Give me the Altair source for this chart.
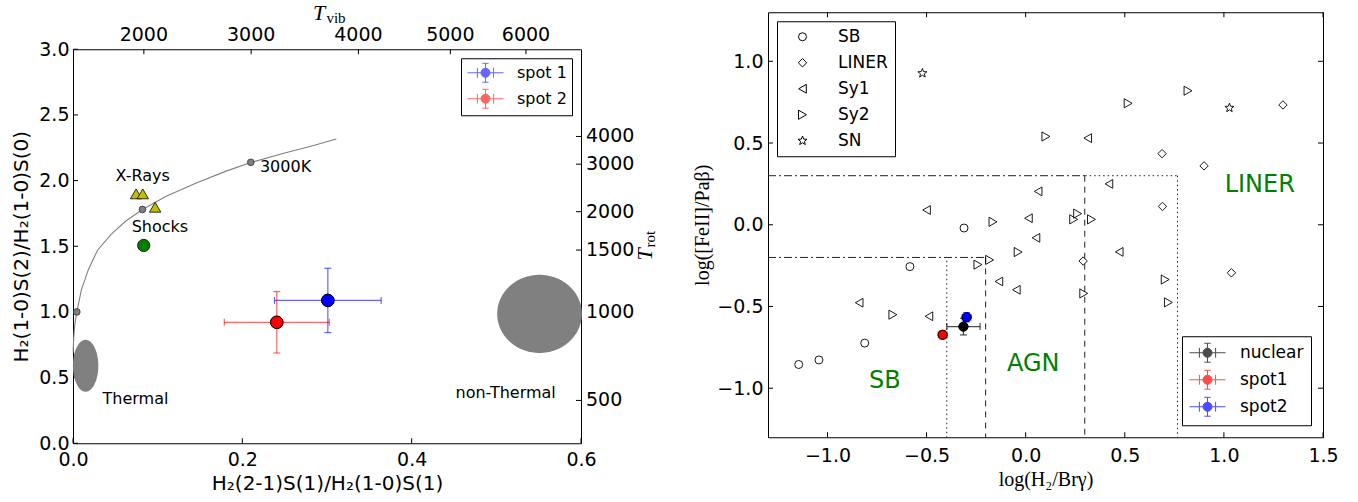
import math
import numpy as np
import pandas as pd
import altair as alt

# ---------------- Left panel data ----------------
lte_x = [0.0002, 0.0008, 0.002, 0.0045, 0.010, 0.018, 0.029, 0.045, 0.062, 0.082,
         0.11, 0.145, 0.18, 0.21, 0.25, 0.28, 0.311]
lte_y = [0.69, 0.80, 0.90, 1.00, 1.17, 1.32, 1.47, 1.59, 1.69, 1.78,
         1.88, 1.98, 2.07, 2.137, 2.21, 2.26, 2.316]
temp_x = [0.0045, 0.082, 0.21]
temp_y = [1.00, 1.78, 2.139]
xray_x = [0.0745, 0.0824, 0.097]
xray_y = [1.899, 1.899, 1.797]
shock_x = [0.0835]
shock_y = [1.506]
ell_name = ["Thermal", "non-Thermal"]
ell_cx = [0.0149, 0.551]
ell_cy = [0.59, 0.985]
ell_w = [0.030, 0.100]
ell_h = [0.395, 0.595]
spotL_name = ["spot 1", "spot 2"]
spotL_x = [0.301, 0.2407]
spotL_y = [1.0875, 0.921]
spotL_xerr = [0.063, 0.062]
spotL_yerr = [0.245, 0.234]
spotL_color = ["#0000ff", "#ff0000"]
annL_text = ["X-Rays", "Shocks", "Thermal", "non-Thermal"]
annL_x = [0.0824, 0.1027, 0.0738, 0.511]
annL_y = [2.038, 1.646, 0.3375, 0.3825]
annK_text = ["3000K"]
annK_x = [0.2208]
annK_y = [2.101]
xticksL = [0.0, 0.2, 0.4, 0.6]
yticksL = [0.0, 0.5, 1.0, 1.5, 2.0, 2.5, 3.0]
tvib_pos = [0.0837, 0.2104, 0.3371, 0.4457, 0.535]
tvib_lab = ["2000", "3000", "4000", "5000", "6000"]
trot_pos = [2.336, 2.125, 1.763, 1.471, 1.0, 0.326]
trot_lab = ["4000", "3000", "2000", "1500", "1000", "500"]
# secondary-axis titles (T_vib above the top axis, T_rot right of the right axis)
ttl_text = ["T", "vib", "T", "rot"]
ttl_x = [0.2906, 0.3106, 0.6756, 0.6815]
ttl_y = [3.275, 3.24, 1.439, 1.553]

# ---------------- Right panel data ----------------
sb_x = [-0.311, -0.584, -0.812, -1.043, -1.145]
sb_y = [-0.02, -0.256, -0.724, -0.827, -0.855]
liner_x = [0.688, 0.90, 0.69, 0.29, 1.038, 1.298]
liner_y = [0.435, 0.36, 0.112, -0.222, -0.294, 0.733]
sy1_x = [-0.50, 0.014, 0.063, 0.052, 0.313, 0.42, 0.472, -0.135, -0.047, -0.84, -0.488]
sy1_y = [0.09, 0.04, 0.204, -0.08, 0.53, 0.25, -0.166, -0.347, -0.398, -0.477, -0.56]
sy2_x = [-0.165, 0.102, 0.242, 0.262, 0.332, 0.517, 0.819, -0.038, -0.182, -0.241,
         0.293, 0.704, 0.72, -0.67]
sy2_y = [0.018, 0.54, 0.033, 0.068, 0.033, 0.743, 0.82, -0.167, -0.215, -0.244,
         -0.42, -0.335, -0.475, -0.55]
sn_x = [-0.521, 1.028]
sn_y = [0.927, 0.715]
cls_names = ["SB", "LINER", "Sy1", "Sy2", "SN"]

spotR_name = ["nuclear", "spot1", "spot2"]
spotR_x = [-0.314, -0.419, -0.298]
spotR_y = [-0.623, -0.673, -0.566]
spotR_xerr = [0.084, 0.022, 0.022]
spotR_yerr = [0.051, 0.025, 0.028]
spotR_color = ["#000000", "#ff0000", "#0000ff"]

seg_x1 = [-1.3, 0.30, 0.766, 0.298, -1.3, -0.202, -0.398]
seg_x2 = [0.30, 0.766, 0.766, 0.298, -0.20, -0.202, -0.398]
seg_y1 = [0.30, 0.30, 0.30, 0.30, -0.20, -0.20, -0.22]
seg_y2 = [0.30, 0.30, -1.3, -1.3, -0.20, -1.3, -1.3]
seg_style = ["dashdot", "dotted", "dotted", "dashed", "dashdot", "dashed", "dotted"]

annR_text = ["SB", "AGN", "LINER"]
annR_x = [-0.711, 0.038, 1.181]
annR_y = [-0.953, -0.851, 0.244]
xticksR = [-1.0, -0.5, 0.0, 0.5, 1.0, 1.5]
yticksR = [-1.0, -0.5, 0.0, 0.5, 1.0]

# ---------------- helpers ----------------
FONT = "DejaVu Sans"
SERIF = "Liberation Serif"


def X(f, dom, axis=alt.Undefined):
    return alt.X(f, type="quantitative", scale=alt.Scale(domain=dom, nice=False, zero=False), axis=axis)


def Y(f, dom, axis=alt.Undefined):
    return alt.Y(f, type="quantitative", scale=alt.Scale(domain=dom, nice=False, zero=False), axis=axis, stack=None)


def base_axis(**kw):
    d = dict(ticks=False, tickSize=0, domain=False, grid=False, labelFontSize=19, labelColor="black",
             labelFont=FONT, labelFlush=False, labelOverlap=False, titleColor="black",
             titleFontWeight="normal")
    d.update(kw)
    return alt.Axis(**d)


def tick_rules(values, dom, side, W, H, axis=alt.Undefined, L=5):
    df = pd.DataFrame({"v": values})
    c = alt.Chart(df).mark_rule(color="black", strokeWidth=1)
    if side == "bottom":
        return c.encode(x=X("v", dom, axis), y=alt.value(H), y2=alt.value(H - L))
    if side == "top":
        return c.encode(x=X("v", dom, axis), y=alt.value(0), y2=alt.value(L))
    if side == "left":
        return c.encode(y=Y("v", dom, axis), x=alt.value(0), x2=alt.value(L))
    return c.encode(y=Y("v", dom, axis), x=alt.value(W), x2=alt.value(W - L))


ERR_PATH = ("M-2,0L2,0 M-0.9,-0.55L-0.9,0.55 M0.9,-0.55L0.9,0.55 M0,-1.05L0,1.05 "
            "M-0.35,-1.05L0.35,-1.05 M-0.35,1.05L0.35,1.05 "
            "M0.5,0A0.5,0.5 0 1,1 -0.5,0A0.5,0.5 0 1,1 0.5,0Z")
HCAP = "M-1,0L1,0"
VCAP = "M0,-1L0,1"

pts = []
for k in range(10):
    ang = -math.pi / 2 + k * math.pi / 5
    r = 1.0 if k % 2 == 0 else 0.42
    pts.append(f"{r * math.cos(ang):.3f},{r * math.sin(ang):.3f}")
STAR = "M" + " L".join(pts) + " Z"


def error_layers(df, DX, DY, sc, op, capsize=49):
    ebx = alt.Chart(df).mark_rule(strokeWidth=1.2, opacity=op).encode(
        x=X("xlo", DX), x2="xhi", y=Y("y", DY), stroke=alt.Stroke("name:N", scale=sc))
    eby = alt.Chart(df).mark_rule(strokeWidth=1.2, opacity=op).encode(
        x=X("x", DX), y=Y("ylo", DY), y2="yhi", stroke=alt.Stroke("name:N", scale=sc))
    capx = alt.Chart(df).transform_fold(["xlo", "xhi"], as_=["k", "v"]).mark_point(
        shape=VCAP, size=capsize, strokeWidth=1.2, opacity=op, filled=False).encode(
        x=X("v:Q", DX), y=Y("y", DY), stroke=alt.Stroke("name:N", scale=sc))
    capy = alt.Chart(df).transform_fold(["ylo", "yhi"], as_=["k", "v"]).mark_point(
        shape=HCAP, size=capsize, strokeWidth=1.2, opacity=op, filled=False).encode(
        x=X("x", DX), y=Y("v:Q", DY), stroke=alt.Stroke("name:N", scale=sc))
    return [ebx, eby, capx, capy]


def err_df(names, xs, ys, xe, ye):
    return pd.DataFrame({"name": names, "x": xs, "y": ys,
                         "xlo": [a - b for a, b in zip(xs, xe)],
                         "xhi": [a + b for a, b in zip(xs, xe)],
                         "ylo": [a - b for a, b in zip(ys, ye)],
                         "yhi": [a + b for a, b in zip(ys, ye)]})


# ---------------- Left panel ----------------
WL, HL = 508, 394
DXL, DYL = [0, 0.6], [0, 3]

t = np.linspace(np.pi, 0, 121)
ell_rows = []
for n, cx, cy, w, h in zip(ell_name, ell_cx, ell_cy, ell_w, ell_h):
    for tt in t:
        ell_rows.append({"name": n, "x": cx + w / 2 * np.cos(tt),
                         "y": cy + h / 2 * np.sin(tt), "y2": cy - h / 2 * np.sin(tt)})
ellipses = alt.Chart(pd.DataFrame(ell_rows)).mark_area(color="#808080", opacity=1).encode(
    x=X("x", DXL), y=Y("y", DYL), y2="y2", detail="name:N")

curve = alt.Chart(pd.DataFrame({"x": lte_x, "y": lte_y, "i": range(len(lte_x))})).mark_line(
    color="#808080", strokeWidth=1.1).encode(x=X("x", DXL), y=Y("y", DYL), order="i:Q")

temps = alt.Chart(pd.DataFrame({"x": temp_x, "y": temp_y})).mark_point(
    filled=True, fill="#808080", stroke="#333333", strokeWidth=0.8, size=45, opacity=1).encode(
    x=X("x", DXL), y=Y("y", DYL))

xrays = alt.Chart(pd.DataFrame({"x": xray_x, "y": xray_y})).mark_point(
    shape="triangle-up", filled=True, fill="#bfbf00", stroke="black", strokeWidth=0.8, size=130,
    opacity=1).encode(x=X("x", DXL), y=Y("y", DYL))

shocks = alt.Chart(pd.DataFrame({"x": shock_x, "y": shock_y})).mark_point(
    shape="circle", filled=True, fill="#008000", stroke="black", strokeWidth=0.8, size=150,
    opacity=1).encode(x=X("x", DXL), y=Y("y", DYL))

annL = alt.Chart(pd.DataFrame({"x": annL_x, "y": annL_y, "t": annL_text})).mark_text(
    font=FONT, fontSize=16, color="black", align="center", baseline="middle").encode(
    x=X("x", DXL), y=Y("y", DYL), text="t:N")
annK = alt.Chart(pd.DataFrame({"x": annK_x, "y": annK_y, "t": annK_text})).mark_text(
    font=FONT, fontSize=16, color="black", align="left", baseline="middle").encode(
    x=X("x", DXL), y=Y("y", DYL), text="t:N")

dfL = err_df(spotL_name, spotL_x, spotL_y, spotL_xerr, spotL_yerr)
scL = alt.Scale(domain=spotL_name, range=spotL_color)
legL = alt.Legend(title=None, orient="top-right", offset=9, symbolType=ERR_PATH, symbolSize=324,
                  symbolStrokeWidth=1, symbolOpacity=1, labelFontSize=16, labelFont=FONT,
                  labelColor="black", padding=5, rowPadding=3, symbolOffset=10, labelOffset=22,
                  strokeColor="black", fillColor="white", cornerRadius=0)
errL = error_layers(dfL, DXL, DYL, scL, 0.6)
spotsL_leg = alt.Chart(dfL).mark_point(filled=True, size=156, opacity=1, strokeWidth=1).encode(
    x=X("x", DXL), y=Y("y", DYL),
    fill=alt.Fill("name:N", scale=scL, legend=legL),
    stroke=alt.Stroke("name:N", scale=scL, legend=legL))
spotsL = alt.Chart(dfL).mark_point(filled=True, size=156, opacity=1, stroke="black", strokeWidth=1).encode(
    x=X("x", DXL), y=Y("y", DYL), fill=alt.Fill("name:N", scale=scL))

tkLb = tick_rules(xticksL, DXL, "bottom", WL, HL, base_axis(
    orient="bottom", values=xticksL, format=".1f", labelPadding=7,
    title="H₂(2-1)S(1)/H₂(1-0)S(1)", titleFontSize=20, titleFont=FONT, titlePadding=4))
tkLl = tick_rules(yticksL, DYL, "left", WL, HL, base_axis(
    orient="left", values=yticksL, format=".1f", labelPadding=4,
    title="H₂(1-0)S(2)/H₂(1-0)S(0)", titleFontSize=20, titleFont=FONT, titlePadding=7))
tkLt = tick_rules(tvib_pos, DXL, "top", WL, HL)
tkLr = tick_rules(trot_pos, DYL, "right", WL, HL)

labTop = alt.Chart(pd.DataFrame({"v": tvib_pos, "t": tvib_lab})).mark_text(
    font=FONT, fontSize=19, color="black", align="center", baseline="alphabetic").encode(
    x=X("v", DXL), y=alt.value(-8), text="t:N")
labRight = alt.Chart(pd.DataFrame({"v": trot_pos, "t": trot_lab})).mark_text(
    font=FONT, fontSize=19, color="black", align="left", baseline="middle").encode(
    y=Y("v", DYL), x=alt.value(WL + 5), text="t:N")

dfT = pd.DataFrame({"x": ttl_x, "y": ttl_y, "t": ttl_text})
ttlT_v = alt.Chart(dfT.iloc[[0]]).mark_text(
    font=SERIF, fontSize=22, fontStyle="italic", color="black", align="center", baseline="middle").encode(
    x=X("x", DXL), y=Y("y", DYL), text="t:N")
ttlS_v = alt.Chart(dfT.iloc[[1]]).mark_text(
    font=SERIF, fontSize=15, color="black", align="center", baseline="middle").encode(
    x=X("x", DXL), y=Y("y", DYL), text="t:N")
ttlT_r = alt.Chart(dfT.iloc[[2]]).mark_text(
    font=SERIF, fontSize=22, fontStyle="italic", color="black", align="center", baseline="middle",
    angle=270).encode(x=X("x", DXL), y=Y("y", DYL), text="t:N")
ttlS_r = alt.Chart(dfT.iloc[[3]]).mark_text(
    font=SERIF, fontSize=15, color="black", align="center", baseline="middle",
    angle=270).encode(x=X("x", DXL), y=Y("y", DYL), text="t:N")

left = alt.layer(
    tkLb, tkLl, tkLt, tkLr,
    ellipses, curve, temps, xrays, shocks, annL, annK,
    *errL, spotsL_leg, spotsL,
    labTop, labRight, ttlT_v, ttlS_v, ttlT_r, ttlS_r,
).properties(width=WL, height=HL)

# ---------------- Right panel ----------------
WR, HR = 555, 425
DXR, DYR = [-1.3, 1.5], [-1.3, 1.3]

cat_rows = []
for nm, xs, ys in zip(cls_names, [sb_x, liner_x, sy1_x, sy2_x, sn_x], [sb_y, liner_y, sy1_y, sy2_y, sn_y]):
    for a, b in zip(xs, ys):
        cat_rows.append({"cls": nm, "x": a, "y": b})
dfC = pd.DataFrame(cat_rows)

legShape = alt.Legend(title=None, orient="top-left", offset=9, symbolStrokeWidth=1,
                      symbolStrokeColor="black", labelFontSize=17, labelFont=FONT, labelColor="black",
                      padding=7, rowPadding=8, symbolOffset=10, labelOffset=27,
                      strokeColor="black", fillColor="white", cornerRadius=0)
catalog = alt.Chart(dfC).mark_point(filled=False, color="black", strokeWidth=0.9, opacity=1).encode(
    x=X("x", DXR), y=Y("y", DYR),
    shape=alt.Shape("cls:N", scale=alt.Scale(
        domain=cls_names, range=["circle", "diamond", "triangle-left", "triangle-right", STAR]),
        legend=legShape),
    size=alt.Size("cls:N", scale=alt.Scale(domain=cls_names, range=[64, 90, 58, 58, 44]),
                  legend=legShape))

dfS = pd.DataFrame({"x1": seg_x1, "x2": seg_x2, "y1": seg_y1, "y2": seg_y2, "style": seg_style})
segs = alt.Chart(dfS).mark_rule(color="#222222", strokeWidth=1).encode(
    x=X("x1", DXR), x2="x2", y=Y("y1", DYR), y2="y2",
    strokeDash=alt.StrokeDash("style:N", scale=alt.Scale(
        domain=["dotted", "dashed", "dashdot"], range=[[1.5, 3], [6, 5], [8, 3, 2, 3]]), legend=None))

annR = alt.Chart(pd.DataFrame({"x": annR_x, "y": annR_y, "t": annR_text})).mark_text(
    font=FONT, fontSize=24, color="#008000", align="center", baseline="middle").encode(
    x=X("x", DXR), y=Y("y", DYR), text="t:N")

dfR = err_df(spotR_name, spotR_x, spotR_y, spotR_xerr, spotR_yerr)
scR = alt.Scale(domain=spotR_name, range=spotR_color)
legR = alt.Legend(title=None, orient="bottom-right", offset=12, symbolType=ERR_PATH, symbolSize=324,
                  symbolStrokeWidth=1, symbolOpacity=1, labelFontSize=17, labelFont=FONT,
                  labelColor="black", padding=7, rowPadding=4, symbolOffset=9, labelOffset=23,
                  strokeColor="black", fillColor="white", cornerRadius=0)
errR = error_layers(dfR, DXR, DYR, scR, 0.7)
spotsR_leg = alt.Chart(dfR).mark_point(filled=True, size=81, opacity=1, strokeWidth=1).encode(
    x=X("x", DXR), y=Y("y", DYR),
    fill=alt.Fill("name:N", scale=scR, legend=legR),
    stroke=alt.Stroke("name:N", scale=scR, legend=legR))
spotsR = alt.Chart(dfR).mark_point(filled=True, size=81, opacity=1, stroke="black", strokeWidth=1).encode(
    x=X("x", DXR), y=Y("y", DYR), fill=alt.Fill("name:N", scale=scR))

minus_expr = "replace(format(datum.value, '.1f'), '-', '\u2212')"
tkRb = tick_rules(xticksR, DXR, "bottom", WR, HR, base_axis(
    orient="bottom", values=xticksR, labelExpr=minus_expr, labelPadding=9,
    title="log(H₂/Brγ)", titleFontSize=20, titleFont=SERIF, titlePadding=4))
tkRl = tick_rules(yticksR, DYR, "left", WR, HR, base_axis(
    orient="left", values=yticksR, labelExpr=minus_expr, labelPadding=5,
    title="log([FeII]/Paβ)", titleFontSize=20, titleFont=SERIF, titlePadding=4))
tkRt = tick_rules(xticksR, DXR, "top", WR, HR)
tkRr = tick_rules(yticksR, DYR, "right", WR, HR)

# invisible spacer below the right panel: lifts it (rows are centred) to the reference height
spacer = alt.Chart(pd.DataFrame({"x": [DXR[0]], "t": ["."]})).mark_text(
    fontSize=4, color="white", opacity=0.01, baseline="top", align="left").encode(
    x=X("x", DXR), y=alt.value(HR + 89), text="t:N")

right = alt.layer(
    tkRb, tkRl, tkRt, tkRr,
    segs, catalog, annR, *errR, spotsR_leg, spotsR, spacer,
).properties(width=WR, height=HR)

chart = alt.hconcat(left, right, spacing=33, center=True).resolve_scale(
    fill="independent", stroke="independent", shape="independent", size="independent"
).configure(
    font=FONT, padding={"left": 11, "top": 1, "right": 5, "bottom": 2}
).configure_view(stroke="black", strokeWidth=1)

chart.save("out.html", embed_options={"renderer": "svg", "actions": False})
